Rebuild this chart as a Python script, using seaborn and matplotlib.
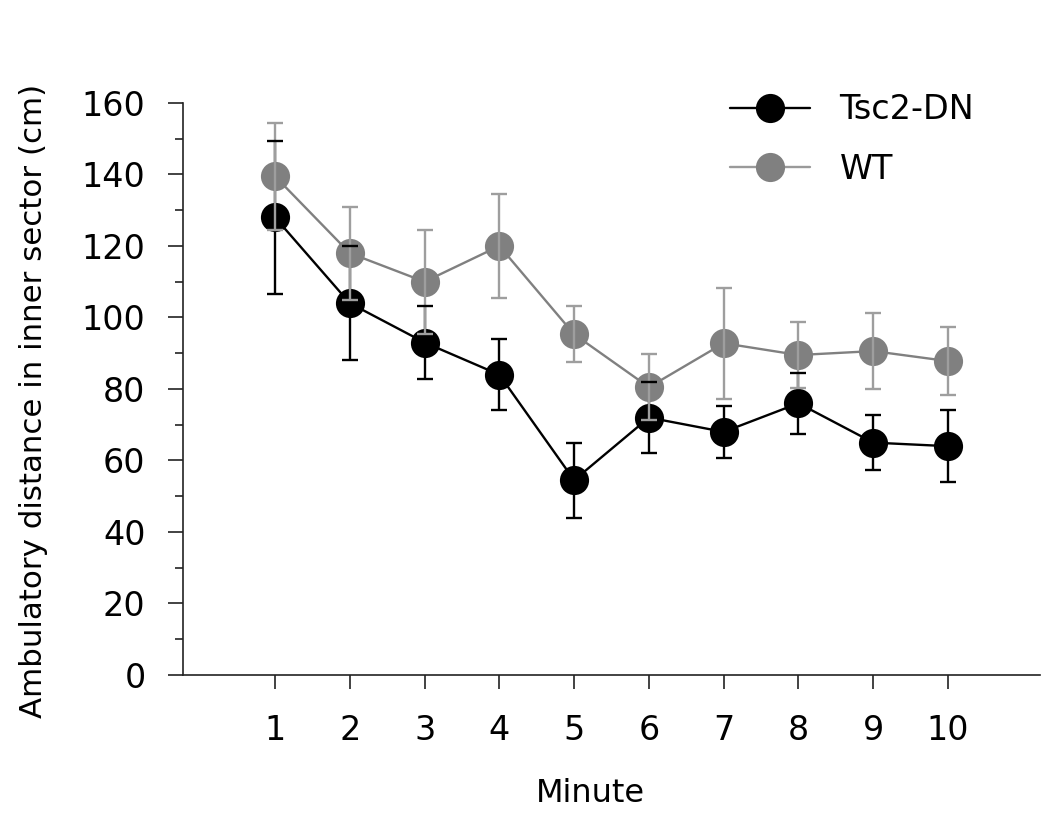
import numpy as np
import pandas as pd
import matplotlib
matplotlib.use('Agg')
import matplotlib.pyplot as plt
from matplotlib.ticker import MultipleLocator
from matplotlib.lines import Line2D
import seaborn as sns

# values
minutes = [1, 2, 3, 4, 5, 6, 7, 8, 9, 10]
tsc2_mean = [128, 104, 93, 84, 54.5, 72, 68, 76, 65, 64]
tsc2_sem = [21.5, 16, 10.3, 10, 10.5, 10, 7.3, 8.5, 7.8, 10]
wt_mean = [139.5, 118, 110, 120, 95.3, 80.5, 92.8, 89.5, 90.6, 87.8]
wt_sem = [15, 13, 14.5, 14.5, 7.8, 9.3, 15.5, 9.3, 10.6, 9.4]
groups = ['Tsc2-DN', 'WT']

sns.set_style('ticks')
plt.rcParams['font.family'] = ['DejaVu Sans']
plt.rcParams['text.color'] = 'black'
plt.rcParams['axes.labelcolor'] = 'black'
plt.rcParams['xtick.color'] = '#222222'
plt.rcParams['ytick.color'] = '#222222'
plt.rcParams['xtick.labelcolor'] = 'black'
plt.rcParams['ytick.labelcolor'] = 'black'

df = pd.DataFrame({
    'Minute': minutes * 2,
    'Distance': tsc2_mean + wt_mean,
    'Group': [groups[0]] * len(minutes) + [groups[1]] * len(minutes),
})

fig = plt.figure(figsize=(10.5, 8.16), dpi=100)
ax = fig.add_axes([0.1743, 0.1728, 0.8162, 0.701])

# error bars first, lines and markers on top
ax.errorbar(minutes, tsc2_mean, yerr=tsc2_sem, fmt='none', ecolor='black',
            elinewidth=1.7, capsize=6, capthick=1.7, zorder=1)
ax.errorbar(minutes, wt_mean, yerr=wt_sem, fmt='none', ecolor='#9e9e9e',
            elinewidth=1.7, capsize=6, capthick=1.7, zorder=3)

palette = {'Tsc2-DN': 'black', 'WT': '#808080'}
sns.lineplot(data=df, x='Minute', y='Distance', hue='Group', palette=palette,
             marker='o', markersize=21, markeredgewidth=0, linewidth=1.7,
             ax=ax, legend=False)
lines = ax.get_lines()
lines[0].set_zorder(2)
lines[1].set_zorder(4)
lines[1].set_color('#9a9a9a')
lines[1].set_markerfacecolor('#808080')
lines[0].set_markerfacecolor('black')

ax.set_xlim(-0.23, 11.23)
ax.set_ylim(0, 160)
ax.set_xticks(minutes)
ax.yaxis.set_major_locator(MultipleLocator(20))
ax.yaxis.set_minor_locator(MultipleLocator(10))
ax.tick_params(axis='y', which='major', length=11, width=1.2, pad=16, labelsize=24)
ax.tick_params(axis='y', which='minor', length=6, width=1.2)
ax.tick_params(axis='x', which='major', length=10, width=1.2, pad=18, labelsize=24)
sns.despine(ax=ax)
for side in ['left', 'bottom']:
    ax.spines[side].set_linewidth(1.2)
    ax.spines[side].set_color('#222222')

ax.set_xlabel('Minute', fontsize=23)
ax.set_ylabel('Ambulatory distance in inner sector (cm)', fontsize=22.2)
ax.xaxis.set_label_coords(0.475, -0.18)
ax.yaxis.set_label_coords(-0.158, 0.479)

# legend built by hand to match line + marker look
handles = [
    Line2D([], [], color='black', marker='o', markersize=21, markeredgewidth=0, linewidth=1.7),
    Line2D([], [], color='#9a9a9a', marker='o', markerfacecolor='#808080', markersize=21,
           markeredgewidth=0, linewidth=1.7),
]
ax.legend(handles, groups, loc='upper left', bbox_to_anchor=(0.679, 0.906),
          bbox_transform=fig.transFigure, frameon=False, fontsize=24,
          handlelength=2.4, handletextpad=0.9, labelspacing=0.8, borderpad=0)

fig.savefig('out.png', dpi=100)
